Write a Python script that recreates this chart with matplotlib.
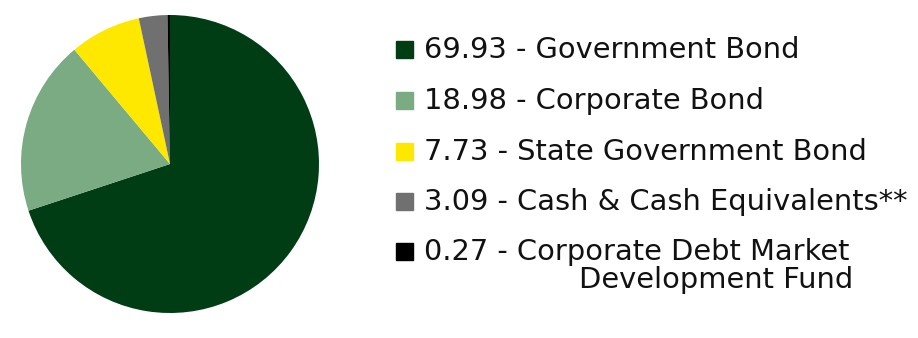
import matplotlib.pyplot as plt

# Data
values = [69.93, 18.98, 7.73, 3.09, 0.27]
labels = ["69.93 - Government Bond",
          "18.98 - Corporate Bond",
          "7.73 - State Government Bond",
          "3.09 - Cash & Cash Equivalents**",
          "0.27 - Corporate Debt Market"]
colors = ["#003d14", "#7aab82", "#ffe800", "#707070", "#000000"]

W, H = 918, 338
fig = plt.figure(figsize=(W / 100, H / 100), dpi=100)

# pie: centre (170,164) r=149 in pixels
cx, cy, r = 170, 164, 149
ax = fig.add_axes([(cx - r) / W, 1 - (cy + r) / H, 2 * r / W, 2 * r / H])
ax.pie(values, colors=colors, startangle=90, counterclock=False,
       radius=1, wedgeprops=dict(linewidth=0))
ax.set_xlim(-1, 1)
ax.set_ylim(-1, 1)
ax.set_aspect("equal")
ax.axis("off")

# legend, drawn by hand
fs = 20.8
rows_y = [50, 101, 152, 202, 252]
for lab, col, y in zip(labels, colors, rows_y):
    fig.patches.append(plt.Rectangle((396 / W, 1 - (y + 8) / H), 17 / W, 17 / H,
                                     transform=fig.transFigure, color=col))
    fig.text(424 / W, 1 - y / H, lab, fontsize=fs, family="DejaVu Sans",
             va="center", ha="left", color="#111111")
fig.text(853 / W, 1 - 280 / H, "Development Fund", fontsize=fs, family="DejaVu Sans",
         va="center", ha="right", color="#111111")

fig.savefig("out.png", dpi=100)
